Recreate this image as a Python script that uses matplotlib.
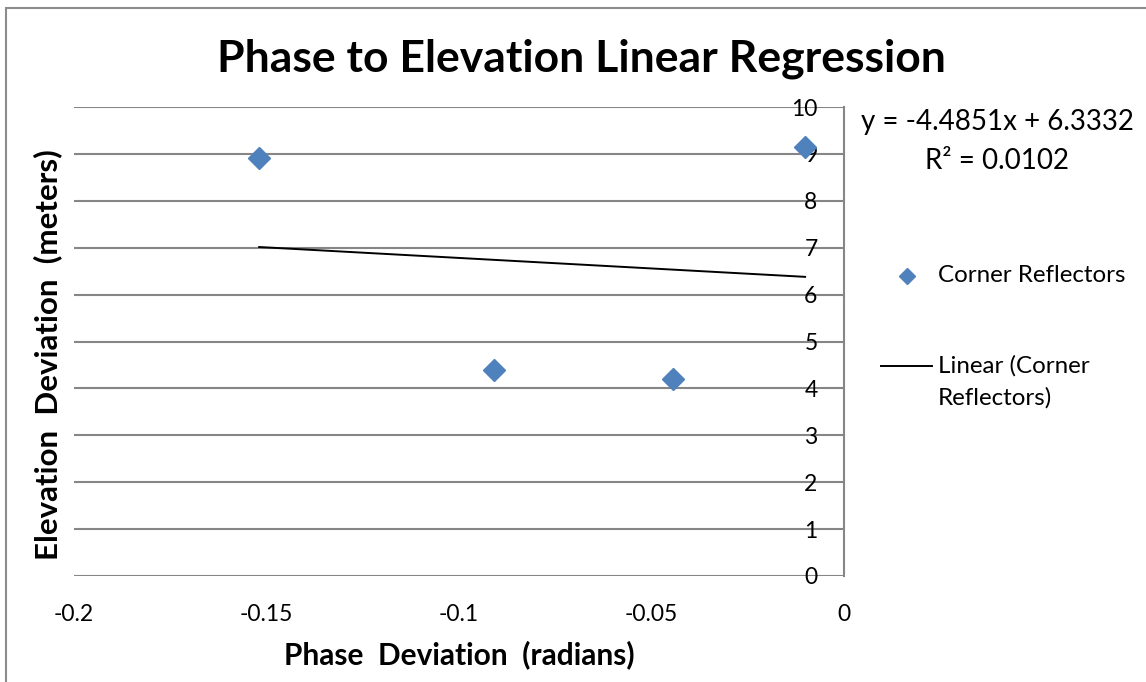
import matplotlib
matplotlib.use("Agg")
import matplotlib.pyplot as plt
from matplotlib.patches import Rectangle
from matplotlib.lines import Line2D
import numpy as np

plt.rcParams['font.family'] = ['Lato', 'DejaVu Sans']

# data
phase = [-0.1519, -0.0908, -0.0445, -0.0101]   # radians
elev = [8.91, 4.39, 4.20, 9.15]                 # meters
x_ticks = [-0.2, -0.15, -0.1, -0.05, 0]
x_labels = ['-0.2', '-0.15', '-0.1', '-0.05', '0']
y_ticks = list(range(0, 11))
# trendline as printed on the chart
trend_slope = -4.4851
trend_icpt = 6.3332
trend_r2 = 0.0102

W, H = 1146, 682
fig = plt.figure(figsize=(W / 100, H / 100), dpi=100)
ax = fig.add_axes([74 / W, 1 - 576 / H, (844 - 74) / W, (576 - 107) / H])

# chart border
fig.patches.append(Rectangle((6 / W, -0.1), 1.2, (H - 8) / H + 0.1, transform=fig.transFigure,
                             fill=False, edgecolor='#8c8c8c', linewidth=1.5))

blue = '#4F81BD'
ax.plot(phase, elev, linestyle='none', marker='D', markersize=11, color=blue, zorder=4)

# linear trendline
xs = np.array([min(phase), max(phase)])
ax.plot(xs, trend_slope * xs + trend_icpt, color='black', linewidth=1.4, zorder=3)

ax.set_xlim(-0.2, 0)
ax.set_ylim(0, 10)
ax.set_xticks(x_ticks)
ax.set_xticklabels(x_labels)
ax.set_yticks(y_ticks)
ax.yaxis.set_ticks_position('right')
ax.tick_params(axis='y', length=0, pad=-19, labelsize=16.5)
ax.tick_params(axis='x', length=0, pad=20, labelsize=16.5)
plt.setp(ax.get_yticklabels(), ha='right')

ax.grid(axis='y', color='#868686', linewidth=1.5)
ax.grid(axis='x', visible=False)
for s in ['left', 'top', 'bottom']:
    ax.spines[s].set_visible(False)
ax.spines['right'].set_color('#868686')
ax.spines['right'].set_linewidth(1.5)
ax.set_axisbelow(True)

fig.text(581 / W, 1 - 59 / H, 'Phase to Elevation Linear Regression', ha='center', va='center',
         fontsize=32, fontweight='bold')
fig.text(459 / W, 1 - 655 / H, 'Phase  Deviation  (radians)', ha='center', va='center',
         fontsize=21.5, fontweight='bold')
fig.text(48 / W, 1 - 355 / H, 'Elevation  Deviation  (meters)', ha='center', va='center',
         fontsize=22.5, fontweight='bold', rotation=90)

fig.text(997 / W, 1 - 122 / H, 'y = %.4fx + %.4f' % (trend_slope, trend_icpt), ha='center', va='center',
         fontsize=20)
fig.text(997 / W, 1 - 161 / H, 'R² = %.4f' % trend_r2, ha='center', va='center', fontsize=20)

# legend
fig.add_artist(Line2D([907 / W], [1 - 276 / H], marker='D', markersize=8, color=blue, linestyle='none'))
fig.text(938 / W, 1 - 276 / H, 'Corner Reflectors', ha='left', va='center', fontsize=17.4)
fig.add_artist(Line2D([881 / W, 932 / W], [1 - 366 / H, 1 - 366 / H], color='black', linewidth=1.4))
fig.text(938 / W, 1 - 366 / H, 'Linear (Corner', ha='left', va='center', fontsize=17.4)
fig.text(938 / W, 1 - 398 / H, 'Reflectors)', ha='left', va='center', fontsize=17.4)

fig.savefig('out.png', dpi=100)
